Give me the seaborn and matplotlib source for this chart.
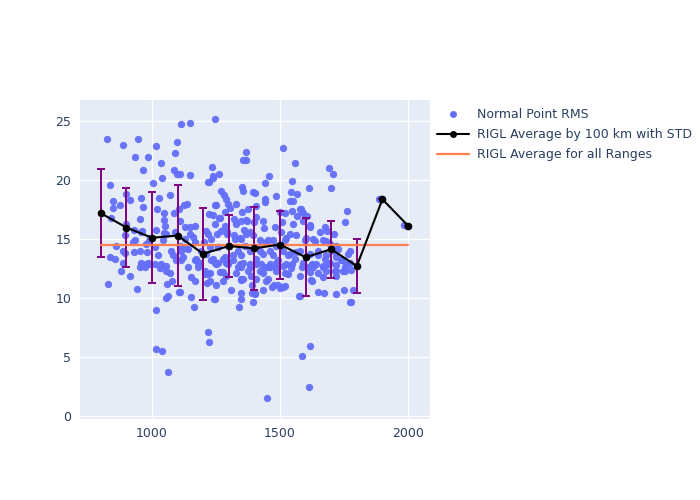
import matplotlib
matplotlib.use("Agg")
import matplotlib.pyplot as plt
from matplotlib.lines import Line2D
import seaborn as sns
import pandas as pd

# ---- data ----
point_x = [826, 886, 947, 1014, 1098, 1091, 935, 983, 1035, 964, 1084, 1041, 1002, 834, 1099, 1072, 1026, 900, 846, 874,
           848, 916, 956, 964, 1020, 1045, 1087, 955, 1045, 1052, 838, 897, 928, 960, 1047, 988,
           835, 854, 893, 928, 980, 1023, 1082, 958, 991, 1037, 1095, 1056,
           887, 880, 913, 828, 943, 971, 978, 1056, 1060, 1078, 1053, 1062, 1104, 1017, 1014, 1041, 1064,
           1112, 1147, 1245, 1369, 1355, 1369, 1236, 1108, 1147, 1262, 1237, 1221, 1352, 1355, 1395, 1268, 1281, 1290,
           1297, 1327, 1306, 1287, 1251, 1137, 1124, 1373, 1238, 1264, 1319, 1369, 1398, 1105, 1108, 1128, 1147, 1245,
           1294, 1359, 1382, 1219, 1254, 1160, 1320, 1349, 1232, 1115, 1141, 1173, 1186, 1238, 1258, 1284, 1316, 1349,
           1343, 1382, 1408,
           1115, 1180, 1245, 1290, 1349, 1375, 1154, 1169, 1214, 1277, 1349, 1391, 1111, 1151, 1245, 1349, 1401, 1395,
           1163, 1340, 1219, 1224, 1206, 1219, 1277, 1355, 1388,
           1511, 1560, 1690, 1707, 1456, 1443, 1545, 1542, 1568, 1612, 1698, 1440, 1440, 1483, 1550, 1404, 1548, 1580,
           1590, 1501, 1509, 1607, 1619, 1436, 1538, 1600, 1655, 1675, 1685, 1710, 1453, 1518, 1636, 1681, 1421, 1473,
           1531, 1564, 1648, 1675, 1720, 1427, 1486, 1545, 1623, 1688, 1453, 1584,
           1459, 1512, 1629, 1668, 1714, 1444, 1476, 1498, 1518, 1531, 1623, 1668, 1648, 1672, 1720, 1573, 1404, 1619,
           1584, 1612, 1448,
           1762, 1755, 1886, 1896, 1984, 1994, 1727, 1772, 1766, 1740, 1759, 1772, 1755, 1742, 1755, 1778, 1717, 1751,
           1785, 1774, 1778,
           1212, 1271, 1293, 1323, 1343, 1369, 1395, 1421, 1447, 1473,
           1202, 1225, 1258, 1297, 1336, 1362, 1382, 1408, 1434, 1460,
           1212, 1232, 1251, 1277, 1297, 1316, 1336, 1355, 1382, 1408, 1421, 1440, 1460, 1479,
           1206, 1225, 1264, 1290, 1329, 1349, 1388, 1408, 1434, 1453,
           1225, 1251, 1310, 1349, 1392, 1434, 1469, 1492, 1512,
           1479, 1505, 1525, 1564, 1596, 1629, 1668, 1694, 1720,
           1486, 1512, 1538, 1577, 1616, 1648, 1681, 1713,
           1492, 1525, 1557, 1590, 1609, 1642, 1668, 1694, 1720,
           1486, 1518, 1544, 1577, 1616, 1648, 1681, 1720, 1746,
           1577, 1622,
           1538, 1577, 1587, 1518, 1568, 1590, 1551, 1616,
           1223, 1247, 1260, 1286, 1329, 1349, 1353, 1372, 1408, 1434, 1407,
           1217, 1238,
           861, 887, 926, 952, 978, 1011, 1043, 1076, 1108, 1134, 1167, 1193,
           893, 932, 958, 991, 1017, 1056, 1089, 1128, 1147, 1167,
           952, 984, 1011, 1030, 1069, 1121, 1141, 1167, 1180, 1242]
point_rms = [23.5, 23.0, 23.5, 22.9, 23.2, 22.3, 21.9, 21.9, 21.4, 20.8, 20.8, 20.2, 19.7, 19.6, 20.5, 18.7, 18.5, 18.8, 18.2, 17.9,
             17.6, 18.3, 18.5, 17.7, 17.5, 17.2, 17.2, 16.7, 16.6, 16.1, 16.8, 16.3, 15.8, 15.7, 15.5, 14.8,
             13.5, 13.3, 13.8, 13.9, 13.9, 13.6, 13.6, 13.0, 12.9, 12.9, 13.2, 12.75,
             13.0, 12.3, 11.9, 11.15, 10.8, 12.6, 12.9, 12.3, 11.2, 11.4, 10.0, 10.2, 10.5, 9.0, 5.66, 5.5, 3.7,
             24.75, 24.8, 25.15, 22.4, 21.7, 21.7, 21.1, 20.5, 20.4, 20.5, 20.2, 19.85, 19.4, 19.1, 19.0, 19.1, 18.7, 18.4,
             18.0, 18.0, 17.6, 17.3, 17.9, 18.0, 17.9, 17.5, 17.0, 16.8, 16.7, 16.6, 16.4, 17.5, 16.5, 16.0, 16.0, 16.3,
             15.6, 15.8, 15.6, 15.4, 15.4, 15.2, 15.3, 15.0, 15.0, 14.0, 14.15, 13.3, 13.0, 13.3, 13.0, 13.5, 13.6, 13.6,
             12.9, 12.9, 13.3,
             13.2, 13.0, 13.0, 13.0, 12.6, 12.3, 11.8, 11.4, 11.3, 11.4, 11.5, 11.1, 10.5, 10.1, 9.9, 9.95, 10.3, 9.7,
             9.2, 9.2, 7.1, 6.3, 12.05, 12.05, 12.2, 11.6, 12.75,
             22.7, 21.4, 21.0, 20.5, 20.3, 19.7, 19.9, 19.0, 18.8, 19.3, 19.3, 18.4, 18.1, 18.6, 18.2, 18.9, 17.4, 17.5,
             17.2, 17.3, 16.45, 16.95, 16.2, 15.9, 15.4, 15.1, 15.6, 16.0, 15.7, 15.4, 14.9, 14.9, 14.85, 14.85, 14.0, 13.6,
             13.6, 13.9, 13.6, 13.3, 13.5, 12.9, 13.0, 12.9, 12.9, 12.9, 12.6, 12.6,
             12.6, 12.75, 12.6, 12.75, 12.3, 11.4, 11.1, 10.85, 11.0, 12.05, 11.4, 11.8, 10.5, 10.45, 10.3, 10.15, 10.4, 5.9,
             5.05, 2.5, 1.54,
             17.4, 16.4, 18.4, 18.4, 16.2, 16.1, 14.15, 14.0, 13.7, 13.2, 12.9, 13.0, 12.6, 13.2, 12.3, 12.4, 12.25, 10.65,
             10.65, 9.7, 9.7,
             15.7, 15.7, 15.4, 15.0, 15.1, 15.4, 15.3, 14.9, 14.7, 14.9,
             14.7, 14.3, 14.3, 14.4, 14.0, 14.4, 14.0, 14.3, 13.7, 14.0,
             13.7, 13.2, 12.9, 13.3, 12.9, 13.2, 12.6, 13.0, 12.6, 12.9, 12.3, 12.6, 12.9, 12.6,
             12.3, 12.1, 12.2, 11.9, 12.1, 11.6, 11.9, 11.6, 12.1, 11.6,
             11.4, 11.1, 10.65, 10.4, 10.4, 10.65, 10.9, 11.1, 10.9,
             16.0, 15.6, 15.1, 15.3, 14.9, 15.0, 14.9, 14.6, 14.4,
             14.4, 14.0, 13.7, 14.0, 13.7, 14.0, 13.6, 13.9,
             13.2, 12.9, 13.3, 13.0, 12.6, 12.9, 12.6, 13.0, 12.8,
             12.3, 12.1, 12.5, 11.9, 12.2, 12.1, 12.3, 11.9, 12.3,
             10.2, 11.5,
             18.2, 17.5, 17.3, 17.2, 16.96, 16.5, 16.3, 16.0,
             17.1, 17.9, 16.8, 16.1, 16.3, 16.5, 17.3, 16.5, 16.9, 16.5, 17.8,
             19.8, 20.3,
             14.4, 14.0, 14.7, 14.0, 14.6, 14.3, 14.9, 14.0, 14.4, 14.2, 14.7, 14.0,
             15.3, 14.9, 15.6, 15.1, 15.8, 15.4, 15.6, 15.0, 15.4, 16.1,
             12.6, 13.0, 12.9, 12.5, 12.1, 13.5, 12.6, 13.2, 12.6, 9.9]

bin_range = [800, 900, 1000, 1100, 1200, 1300, 1400, 1500, 1600, 1700, 1800, 1900, 2000]
bin_avg = [17.18, 15.97, 15.10, 15.29, 13.74, 14.40, 14.20, 14.53, 13.45, 14.13, 12.71, 18.36, 16.12]
bin_std = [3.72, 3.37, 3.86, 4.27, 3.87, 2.64, 3.54, 2.88, 3.31, 2.41, 2.31, 0.0, 0.0]

overall_avg = 14.49
overall_span = [800, 2000]

labels = ["Normal Point RMS", "RIGL Average by 100 km with STD", "RIGL Average for all Ranges"]

# ---- style ----
sns.set_style("darkgrid", {"axes.facecolor": "#E5ECF6", "grid.color": "white",
                           "axes.edgecolor": "#E5ECF6"})
plt.rcParams["font.family"] = ["DejaVu Sans"]
text_color = "#2a3f5f"

fig = plt.figure(figsize=(7, 5), dpi=100)
ax = fig.add_axes([0.114, 0.162, 0.5, 0.638])

df_pts = pd.DataFrame({"range": point_x, "rms": point_rms})
df_bin = pd.DataFrame({"range": bin_range, "avg": bin_avg, "std": bin_std})
df_all = pd.DataFrame({"range": overall_span, "avg": [overall_avg] * len(overall_span)})

sns.scatterplot(data=df_pts, x="range", y="rms", ax=ax, color="#636efa", s=28,
                linewidth=0, alpha=0.95, zorder=2, legend=False)

ax.errorbar(df_bin["range"], df_bin["avg"], yerr=df_bin["std"], fmt="none",
            ecolor="#800080", elinewidth=1.4, capsize=3.2, capthick=1.4, zorder=3)

sns.lineplot(data=df_bin, x="range", y="avg", ax=ax, color="black", linewidth=1.5,
             marker="o", markersize=5.5, markeredgewidth=0, zorder=5, legend=False)

sns.lineplot(data=df_all, x="range", y="avg", ax=ax, color="#FF7F50", linewidth=1.6,
             zorder=4, legend=False)

ax.set_xlim(718, 2085)
ax.set_ylim(-0.25, 26.77)
ax.set_xticks([1000, 1500, 2000])
ax.set_yticks([0, 5, 10, 15, 20, 25])
ax.set_xlabel("")
ax.set_ylabel("")
ax.grid(True, color="white", linewidth=1.0)
ax.tick_params(axis="both", length=0, labelsize=9, colors=text_color, pad=6)
for s in ax.spines.values():
    s.set_visible(False)

handles = [
    Line2D([], [], linestyle="none", marker="o", color="#636efa", markersize=5, markeredgewidth=0),
    Line2D([], [], color="black", linewidth=1.5, marker="o", markersize=5, markeredgewidth=0),
    Line2D([], [], color="#FF7F50", linewidth=1.6),
]
leg = fig.legend(handles, labels, loc="upper left", bbox_to_anchor=(0.624, 0.783),
                 frameon=False, fontsize=9, handlelength=2.6, handletextpad=0.6,
                 labelspacing=0.55, borderpad=0, borderaxespad=0)
for t in leg.get_texts():
    t.set_color(text_color)

fig.savefig("out.png", dpi=100)
